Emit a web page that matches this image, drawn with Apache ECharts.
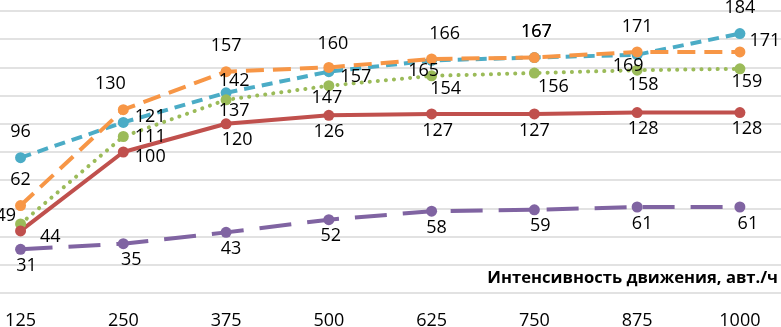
<!DOCTYPE html>
<html>
<head>
<meta charset="utf-8">
<script src="https://cdn.jsdelivr.net/npm/echarts@6/dist/echarts.min.js"></script>
<style>
    html, body {margin: 0; padding: 0; background: #fff;}
    #chart {width: 781px; height: 327px;}
</style>
</head>
<body>
<div id="chart"></div>
<script>
// интенсивность движения, авт./ч
var aCategories = [125, 250, 375, 500, 625, 750, 875, 1000];

var aBlue = [96, 121, 142, 157, 165, 167, 169, 184];
var aGreen = [49, 111, 137, 147, 154, 156, 158, 159];
var aOrange = [62, 130, 157, 160, 166, 167, 171, 171];
var aRed = [44, 100, 120, 126, 127, 127, 128, 128];
var aPurple = [31, 35, 43, 52, 58, 59, 61, 61];

var sFont = '"Open Sans", "Noto Sans", sans-serif';
var jDistance = {top: 11, bottom: 2, right: 6, left: 5};

// позиция подписи для каждой точки: [position, dx, dy]
function MakeData(aValues, aPlace) {
    var aData = [];
    for (var i = 0; i < aValues.length; i++) {
        var p = aPlace[i];
        aData.push({
            value: [aCategories[i], aValues[i]],
            label: {
                position: p[0],
                distance: jDistance[p[0]],
                offset: [p[1] || 0, p[2] || 0]
            }
        });
    }
    return aData
}

function MakeSeries(sName, sColor, aData, lineType, sCap) {
    return {
        name: sName,
        type: 'line',
        data: aData,
        symbol: 'circle',
        symbolSize: 11,
        itemStyle: {color: sColor},
        lineStyle: {color: sColor, width: 4, type: lineType, cap: sCap || 'butt'},
        label: {
            show: true,
            color: '#000',
            fontFamily: sFont,
            fontSize: 18,
            formatter: function (p) { return p.value[1]; }
        },
        emphasis: {disabled: true},
        animation: false
    }
}

var aSeries = [
    MakeSeries('Ряд 3', '#4BACC6', MakeData(aBlue, [
        ['top'], ['right', 0, -6], ['top', 8, 14], ['right', 0, 5],
        ['bottom', -8, -6], ['top', 2, 0], ['bottom', -9, -5], ['top']
    ]), [11, 7]),
    MakeSeries('Ряд 4', '#9BBB59', MakeData(aGreen, [
        ['left', 6, -8], ['right'], ['bottom', 8, -5], ['bottom', -2, -4],
        ['bottom', 14, -3], ['bottom', 19, -3], ['bottom', 6, -2], ['bottom', 7, -3]
    ]), [0.1, 8], 'round'),
    MakeSeries('Ряд 2', '#F79646', MakeData(aOrange, [
        ['top'], ['top', -13, 0], ['top'], ['top', 4, 2],
        ['top', 13, 0], ['top', 2, 0], ['top'], ['right', -2, -11]
    ]), [18, 9]),
    MakeSeries('Ряд 1', '#C0504D', MakeData(aRed, [
        ['right', 8, 6], ['right', 0, 5], ['bottom', 11, 0], ['bottom'],
        ['bottom', 6, 0], ['bottom'], ['bottom', 6, 0], ['bottom', 7, 0]
    ]), 'solid'),
    MakeSeries('Ряд 5', '#8064A2', MakeData(aPurple, [
        ['bottom', 6, 0], ['bottom', 8, 0], ['bottom', 5, 0], ['bottom', 2, 0],
        ['bottom', 5, 0], ['bottom', 6, 0], ['bottom', 5, 0], ['bottom', 8, 0]
    ]), [32, 16])
];

var jOption = {
    backgroundColor: '#fff',
    animation: false,
    grid: {left: 0, right: 0, top: 11, bottom: 34, outerBoundsMode: 'none', containLabel: false},
    xAxis: {
        type: 'value',
        min: 100,
        max: 1050,
        interval: 25,
        axisLine: {show: false},
        axisTick: {show: false},
        splitLine: {show: false},
        axisLabel: {
            color: '#000',
            fontFamily: sFont,
            fontSize: 18,
            margin: 19,
            showMinLabel: true,
            showMaxLabel: true,
            hideOverlap: false,
            formatter: function (v) {
                return aCategories.indexOf(v) >= 0 ? String(v) : '';
            }
        }
    },
    yAxis: {
        type: 'value',
        min: 0,
        max: 200,
        interval: 20,
        axisLine: {show: false},
        axisTick: {show: false},
        axisLabel: {show: false},
        splitLine: {lineStyle: {color: '#d9d9d9', width: 1.5}}
    },
    graphic: [{
        type: 'text',
        right: 3,
        top: 270,
        style: {
            text: 'Интенсивность движения, авт./ч',
            fill: '#000',
            font: 'bold 16.6px ' + sFont
        }
    }],
    series: aSeries
};

var oChart = echarts.init(document.getElementById('chart'));
oChart.setOption(jOption);
</script>
</body>
</html>
